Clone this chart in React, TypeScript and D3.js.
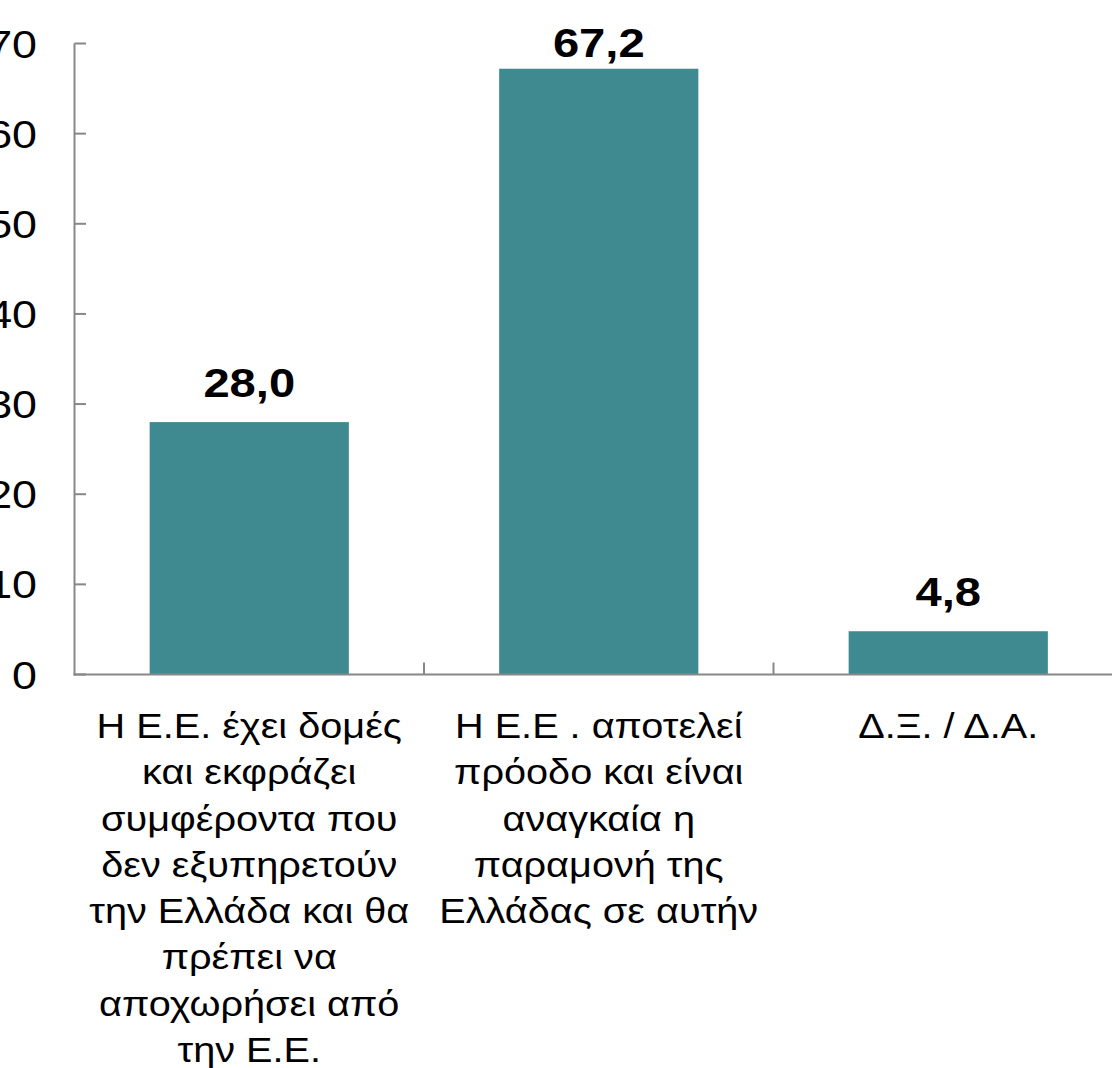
import React from "react";
import * as d3 from "d3";

const categories: string[][] = [
  ["Η Ε.Ε. έχει δομές", "και εκφράζει", "συμφέροντα που", "δεν εξυπηρετούν", "την Ελλάδα και θα", "πρέπει να", "αποχωρήσει από", "την Ε.Ε."],
  ["Η Ε.Ε . αποτελεί", "πρόοδο και είναι", "αναγκαία η", "παραμονή της", "Ελλάδας σε αυτήν"],
  ["Δ.Ξ. / Δ.Α."],
];
const values: number[] = [28.0, 67.2, 4.8];
const valueLabels: string[] = ["28,0", "67,2", "4,8"];
const yTicks: number[] = [0, 10, 20, 30, 40, 50, 60, 70];

const W = 1112;
const H = 1068;
const FONT = "'Liberation Sans', Arial, sans-serif";
const SX = 1.15;

export default function App() {
  const x = d3.scaleBand<number>().domain([0, 1, 2]).range([74.5, 1123]).paddingInner(0).paddingOuter(0);
  const y = d3.scaleLinear().domain([0, 70]).range([674.5, 43.5]);
  const bw = x.bandwidth();
  const barW = bw * 0.57;
  const axisColor = "#878787";
  const barColor = "#3e8a90";

  return (
    <svg width={W} height={H} style={{ position: "absolute", left: 0, top: 0, background: "#fff" }}>
      {/* bars */}
      {values.map((v, i) => (
        <rect
          key={"b" + i}
          x={(x(i) as number) + (bw - barW) / 2}
          y={y(v)}
          width={barW}
          height={y(0) - y(v)}
          fill={barColor}
        />
      ))}
      {/* y axis */}
      <line x1={74.5} x2={74.5} y1={y(70)} y2={y(0) + 1} stroke={axisColor} strokeWidth={2} />
      {yTicks.map((t) => (
        <g key={"t" + t}>
          <line x1={74.5} x2={86} y1={y(t)} y2={y(t)} stroke={axisColor} strokeWidth={2} />
          <text
            transform={`translate(37,${y(t)}) scale(${SX},1)`}
            dy="0.36em"
            textAnchor="end"
            fontFamily={FONT}
            fontSize={39}
            fill="#000"
          >
            {t}
          </text>
        </g>
      ))}
      {/* x axis */}
      <line x1={73.5} x2={W} y1={y(0)} y2={y(0)} stroke={axisColor} strokeWidth={2} />
      {[1, 2].map((i) => (
        <line key={"xt" + i} x1={x(i) as number} x2={x(i) as number} y1={y(0)} y2={y(0) - 12} stroke={axisColor} strokeWidth={2} />
      ))}
      {/* value labels */}
      {values.map((v, i) => (
        <text
          key={"v" + i}
          transform={`translate(${(x(i) as number) + bw / 2},${Math.max(y(v) - 25, y(70) + 13.5)}) scale(${SX},1)`}
          textAnchor="middle"
          fontFamily={FONT}
          fontWeight="bold"
          fontSize={41}
          fill="#000"
        >
          {valueLabels[i]}
        </text>
      ))}
      {/* category labels */}
      {categories.map((lines, i) => (
        <g key={"c" + i} transform={`translate(${(x(i) as number) + bw / 2},738) scale(${SX},1)`}>
          <text textAnchor="middle" fontFamily={FONT} fontSize={34.5} fill="#000">
            {lines.map((ln, j) => (
              <tspan key={j} x={0} y={j * 46.3}>
                {ln}
              </tspan>
            ))}
          </text>
        </g>
      ))}
    </svg>
  );
}
